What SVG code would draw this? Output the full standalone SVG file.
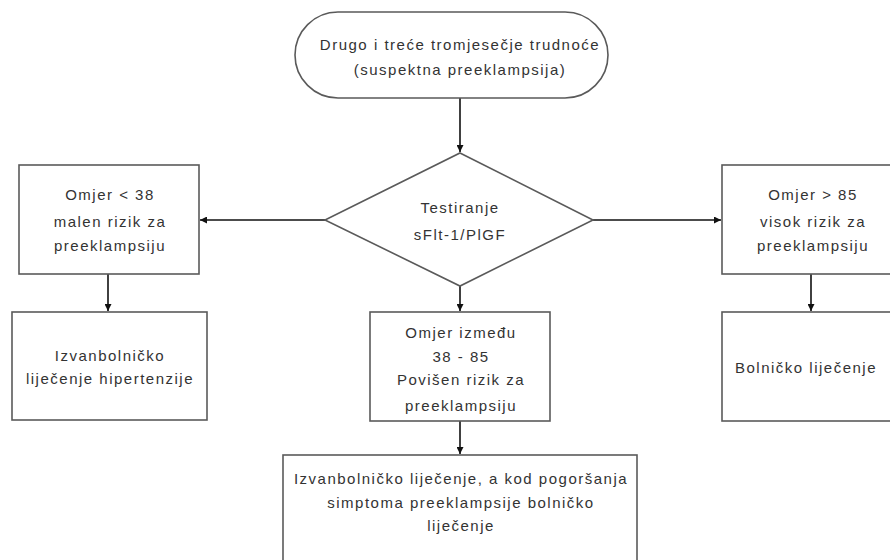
<svg xmlns="http://www.w3.org/2000/svg" width="890" height="560" viewBox="0 0 890 560">
<style>
.s{fill:#fff;stroke:#5a5a5a;stroke-width:1.6}
.t{font-family:"Liberation Sans",Arial,sans-serif;font-size:15px;fill:#333;text-anchor:middle;letter-spacing:1.5px}
.c{stroke:#111;stroke-width:1.6;fill:none;marker-end:url(#a)}
</style>
<defs>
<marker id="a" viewBox="0 0 10 10" refX="10" refY="5" markerWidth="7" markerHeight="7" markerUnits="userSpaceOnUse" orient="auto">
<path d="M0,0 L10,5 L0,10 z" fill="#111"/>
</marker>
</defs>
<rect width="890" height="560" fill="#fff"/>
<g id="connectors">
<line class="c" x1="460" y1="98" x2="460" y2="152"/>
<line class="c" x1="325" y1="220" x2="200" y2="220"/>
<line class="c" x1="593" y1="220" x2="721" y2="220"/>
<line class="c" x1="108" y1="274" x2="108" y2="311"/>
<line class="c" x1="460" y1="286" x2="460" y2="311"/>
<line class="c" x1="811" y1="274" x2="811" y2="311"/>
<line class="c" x1="460" y1="421" x2="460" y2="454"/>
</g>
<g id="start">
<rect class="s" x="295" y="12" width="313" height="86" rx="43" ry="43"/>
<text class="t" x="460" y="50">Drugo i treće tromjesečje trudnoće</text>
<text class="t" x="460" y="75">(suspektna preeklampsija)</text>
</g>
<g id="test">
<polygon class="s" points="460,153 593,220 460,286 325,220"/>
<text class="t" x="460" y="213">Testiranje</text>
<text class="t" x="460" y="240">sFlt-1/PlGF</text>
</g>
<g id="low">
<rect class="s" x="19" y="165" width="180" height="109"/>
<text class="t" x="110" y="200">Omjer &lt; 38</text>
<text class="t" x="110" y="227">malen rizik za</text>
<text class="t" x="110" y="251">preeklampsiju</text>
</g>
<g id="high">
<rect class="s" x="722" y="165" width="180" height="109"/>
<text class="t" x="813" y="200">Omjer &gt; 85</text>
<text class="t" x="813" y="227">visok rizik za</text>
<text class="t" x="813" y="251">preeklampsiju</text>
</g>
<g id="outpatient">
<rect class="s" x="12" y="312" width="195" height="108"/>
<text class="t" x="110" y="361">Izvanbolničko</text>
<text class="t" x="110" y="384">liječenje hipertenzije</text>
</g>
<g id="mid">
<rect class="s" x="370" y="312" width="180" height="109"/>
<text class="t" x="461" y="338">Omjer između</text>
<text class="t" x="461" y="362">38 - 85</text>
<text class="t" x="461" y="385">Povišen rizik za</text>
<text class="t" x="461" y="411">preeklampsiju</text>
</g>
<g id="hospital">
<rect class="s" x="722" y="312" width="180" height="109"/>
<text class="t" x="806" y="373">Bolničko liječenje</text>
</g>
<g id="bottom">
<rect class="s" x="283" y="455" width="354" height="120"/>
<text class="t" x="461" y="484">Izvanbolničko liječenje, a kod pogoršanja</text>
<text class="t" x="461" y="508">simptoma preeklampsije bolničko</text>
<text class="t" x="461" y="531">liječenje</text>
</g>
</svg>
